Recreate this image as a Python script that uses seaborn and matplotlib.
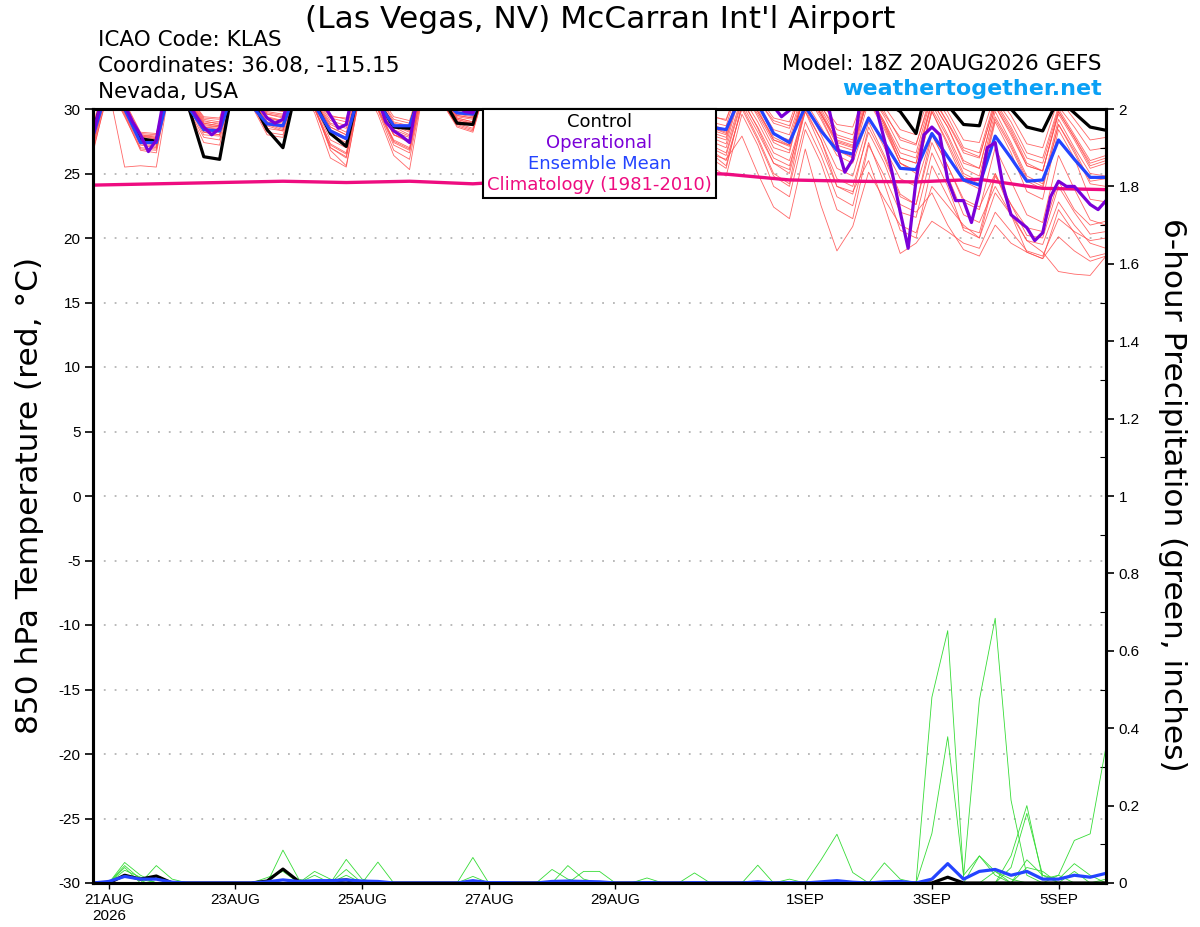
import numpy as np
import pandas as pd
import matplotlib
matplotlib.use("Agg")
import matplotlib.pyplot as plt
import seaborn as sns
from matplotlib.offsetbox import TextArea, VPacker, AnchoredOffsetbox

sns.set_style("white")
plt.rcParams["font.family"] = ["Liberation Sans", "DejaVu Sans"]
plt.rcParams.update({"text.color": "black", "axes.labelcolor": "black",
                     "xtick.color": "black", "ytick.color": "black",
                     "axes.unicode_minus": False})
HEAD = ["DejaVu Sans"]

init = pd.Timestamp("2026-08-20 18:00")
times = pd.date_range(init, periods=65, freq="6h")        # ensemble, 6-hourly
times_op = pd.date_range(init, periods=129, freq="3h")    # operational, 3-hourly
times_clim = pd.date_range(init, periods=17, freq="1D")   # climatology, daily

tick_times = pd.to_datetime(["2026-08-21", "2026-08-23", "2026-08-25", "2026-08-27",
                             "2026-08-29", "2026-09-01", "2026-09-03", "2026-09-05"])
tick_labels = ["21AUG\n2026", "23AUG", "25AUG", "27AUG", "29AUG", "1SEP", "3SEP", "5SEP"]

# 850 hPa temperature (C)
control_t = [28.2,
    32.5, 30.1, 27.7, 27.5,  33.0, 30.3, 26.3, 26.1,  32.8, 30.8, 28.4, 27.0,  32.5, 30.5, 28.1, 27.1,
    32.6, 30.6, 28.6, 28.5,  32.8, 31.0, 28.9, 28.8,  33.0, 31.0, 29.0, 28.8,  33.2, 31.2, 29.3, 29.0,
    33.5, 31.5, 29.5, 29.2,  33.5, 32.0, 31.0, 30.8,  33.8, 32.0, 31.0, 30.8,  34.0, 32.0, 31.0, 30.8,
    33.0, 30.6, 29.8, 28.1,  33.5, 30.3, 28.8, 28.7,  33.0, 30.0, 28.6, 28.3,  30.8, 29.7, 28.6, 28.35]

mean_t = [27.9,
    32.0, 30.0, 27.4, 27.4,  32.3, 30.2, 28.4, 28.3,  32.0, 30.3, 28.85, 28.7,  32.0, 30.3, 28.3, 27.7,
    32.0, 30.5, 28.7, 28.7,  32.2, 30.8, 29.7, 29.6,  32.3, 31.0, 29.6, 29.4,  32.3, 31.0, 29.8, 29.5,
    32.0, 30.8, 29.5, 29.3,  31.8, 30.5, 28.6, 28.4,  31.2, 30.4, 28.1, 27.4,  30.2, 28.3, 26.8, 26.5,
    29.3, 27.4, 25.4, 25.3,  28.1, 26.3, 24.5, 24.1,  27.9, 26.2, 24.4, 24.5,  27.6, 26.1, 24.7, 24.7]

oper_t = [28.0,
    30.5, 32.5, 32.0, 30.3, 29.0, 28.0, 26.7, 27.6,
    31.0, 33.0, 32.5, 30.5, 29.5, 28.6, 28.0, 28.5,
    31.5, 33.0, 32.5, 31.0, 30.2, 29.3, 28.9, 29.2,
    31.5, 33.0, 32.4, 31.2, 30.5, 29.5, 28.5, 28.8,
    31.8, 33.0, 32.5, 30.8, 29.0, 28.3, 27.9, 27.4,
    31.0, 32.8, 32.6, 31.4, 30.6, 30.2, 29.8, 29.7,
    32.0, 33.2, 33.0, 31.8, 30.8, 30.1, 29.6, 29.5,
    32.0, 33.3, 33.0, 31.7, 30.6, 29.9, 29.3, 29.2,
    31.8, 33.0, 32.8, 31.4, 30.4, 29.8, 29.2, 29.0,
    31.6, 32.8, 32.6, 31.8, 31.4, 31.2, 31.0, 31.2,
    33.0, 33.5, 33.0, 32.0, 31.0, 30.2, 29.4, 29.9,
    31.5, 32.5, 33.0, 32.0, 30.0, 27.2, 25.1, 26.1,
    31.0, 31.5, 30.0, 27.6, 25.0, 22.0, 19.2, 24.5,
    28.0, 28.6, 28.0, 24.5, 22.9, 22.9, 21.2, 23.6,
    27.0, 27.4, 24.0, 21.8, 21.3, 20.8, 19.8, 20.4,
    23.2, 24.4, 24.0, 24.0, 23.3, 22.6, 22.2, 22.9]

clim_t = [24.1, 24.2, 24.3, 24.4, 24.3, 24.4, 24.2, 24.5, 24.9,
          25.15, 24.95, 24.5, 24.4, 24.35, 24.55, 23.85, 23.75]

mem01 = [28.5,
    32.8, 30.4, 27.9, 27.8,  33.2, 30.8, 28.6, 28.5,  33.0, 31.0, 29.2, 28.9,  32.6, 30.6, 28.8, 28.2,
    32.4, 30.8, 28.9, 28.6,  32.9, 31.2, 29.4, 29.2,  33.2, 31.4, 29.6, 29.3,  33.0, 31.3, 29.8, 29.5,
    33.4, 31.6, 30.0, 29.4,  33.0, 31.2, 29.5, 29.1,  32.6, 31.0, 29.3, 29.0,  32.4, 30.5, 28.8, 28.6,
    32.0, 30.2, 28.4, 28.0,  31.6, 29.8, 27.6, 27.4,  31.2, 29.5, 27.3, 27.0,  30.8, 29.2, 27.6, 27.8]
mem02 = [27.2,
    32.0, 29.6, 27.0, 26.9,  32.6, 30.2, 28.0, 27.9,  32.4, 30.5, 28.5, 28.3,  32.0, 30.1, 27.2, 26.5,
    32.1, 30.3, 28.0, 27.6,  32.5, 30.7, 29.0, 28.9,  32.6, 30.9, 29.0, 28.6,  32.4, 30.6, 28.7, 28.2,
    32.0, 30.2, 28.0, 27.5,  31.0, 29.0, 26.5, 26.1,  27.9, 25.0, 22.4, 21.5,  26.9, 22.5, 19.0, 20.9,
    25.1, 23.0, 21.0, 20.4,  24.0, 22.5, 21.0, 20.0,  23.5, 21.8, 19.8, 19.5,  22.8, 21.0, 19.6, 19.2]
mem03 = [26.8,
    31.5, 25.5, 25.6, 25.5,  32.8, 30.4, 28.2, 28.0,  32.6, 30.9, 28.8, 28.4,  32.2, 30.2, 26.8, 25.6,
    32.0, 30.0, 27.4, 26.8,  32.6, 30.8, 28.9, 28.5,  32.8, 31.0, 29.3, 29.0,  32.6, 30.8, 29.0, 28.6,
    32.4, 30.6, 28.5, 28.2,  32.0, 30.2, 27.8, 27.3,  31.6, 29.4, 27.0, 26.6,  31.5, 29.4, 26.8, 26.2,
    30.6, 28.4, 25.8, 25.2,  29.8, 27.4, 24.8, 24.2,  29.2, 27.0, 24.4, 23.8,  28.8, 26.6, 24.2, 24.0]
mem04 = [27.8,
    32.2, 29.9, 27.3, 27.1,  32.9, 30.5, 28.6, 28.4,  32.7, 30.7, 29.0, 28.6,  32.1, 30.0, 27.0, 26.2,
    31.8, 29.6, 26.4, 25.3,  32.4, 30.6, 28.8, 28.4,  32.6, 30.8, 29.1, 28.8,  32.6, 30.9, 29.1, 28.8,
    32.3, 30.4, 28.4, 27.9,  31.8, 29.8, 27.2, 26.6,  30.8, 28.5, 25.8, 25.0,  29.8, 27.0, 24.0, 23.6,
    26.0, 22.5, 18.8, 19.6,  21.3, 20.5, 19.6, 19.2,  22.0, 20.5, 19.0, 18.6,  21.5, 20.5, 19.8, 20.0]
mem05 = [28.0,
    32.4, 30.0, 27.5, 27.3,  32.8, 30.6, 28.9, 28.7,  32.9, 31.0, 29.4, 29.1,  32.4, 30.4, 28.0, 27.4,
    32.2, 30.4, 28.2, 27.8,  32.8, 31.0, 29.5, 29.3,  32.9, 31.1, 29.3, 29.0,  32.7, 30.9, 29.0, 28.7,
    32.2, 30.4, 28.6, 28.2,  31.6, 29.6, 27.5, 27.0,  31.0, 29.0, 26.6, 26.0,  30.0, 27.6, 24.6, 24.0,
    28.2, 25.8, 22.6, 22.0,  23.5, 21.0, 19.1, 18.6,  21.0, 19.6, 18.9, 18.4,  20.1, 19.0, 18.2, 18.6]
mem06 = [27.6,
    32.3, 29.8, 27.6, 27.5,  33.0, 30.8, 29.0, 28.9,  33.1, 31.2, 29.6, 29.4,  32.8, 30.8, 28.9, 28.5,
    32.5, 30.6, 28.4, 27.9,  32.6, 30.9, 29.0, 28.7,  32.4, 30.6, 28.6, 28.1,  32.0, 30.1, 27.8, 27.2,
    31.6, 29.5, 27.0, 26.6,  31.2, 29.0, 26.2, 25.4,  30.4, 28.2, 25.8, 25.3,  30.6, 28.6, 26.4, 25.8,
    29.4, 27.0, 24.6, 24.0,  28.0, 25.6, 23.0, 22.4,  25.0, 22.0, 19.8, 18.9,  17.4, 17.2, 17.1, 18.6]
mem07 = [28.3,
    32.6, 30.2, 28.0, 27.9,  33.1, 30.9, 29.2, 29.0,  33.0, 31.1, 29.8, 29.6,  32.9, 31.0, 29.3, 29.0,
    32.8, 31.0, 29.2, 28.9,  33.0, 31.3, 29.8, 29.6,  33.1, 31.4, 29.7, 29.3,  32.8, 31.1, 29.3, 29.0,
    32.5, 30.8, 28.8, 28.4,  32.2, 30.4, 28.2, 27.8,  31.6, 29.8, 27.6, 27.1,  31.6, 29.6, 27.4, 27.0,
    31.0, 28.8, 26.2, 25.8,  30.4, 28.0, 25.4, 24.8,  29.8, 27.4, 24.8, 24.2,  29.2, 27.0, 25.0, 24.8]
mem08 = [27.4,
    32.1, 29.7, 27.2, 27.0,  32.7, 30.4, 28.3, 28.2,  32.6, 30.7, 28.7, 28.3,  32.3, 30.3, 27.6, 27.0,
    32.2, 30.1, 27.5, 26.9,  32.7, 30.9, 29.2, 28.8,  32.5, 30.7, 28.6, 28.2,  32.1, 30.3, 28.0, 27.5,
    31.7, 29.8, 27.4, 26.8,  30.8, 28.6, 25.6, 24.8,  29.6, 27.2, 24.0, 23.2,  28.4, 25.8, 22.2, 21.5,
    27.2, 24.8, 22.0, 21.6,  26.6, 24.0, 20.6, 20.0,  24.8, 22.6, 20.2, 20.0,  24.0, 22.0, 20.3, 20.5]
mem09 = [28.8,
    33.0, 30.6, 28.2, 28.1,  33.3, 31.0, 29.3, 29.2,  33.3, 31.5, 30.0, 29.8,  33.0, 31.0, 29.4, 29.3,
    33.0, 31.2, 29.4, 29.1,  33.2, 31.5, 29.9, 29.8,  33.4, 31.7, 30.2, 29.9,  33.4, 31.6, 30.0, 29.7,
    33.2, 31.4, 29.7, 29.3,  32.9, 31.0, 29.0, 28.7,  32.6, 30.8, 28.9, 28.5,  32.3, 30.3, 28.0, 27.6,
    31.8, 29.8, 27.6, 27.2,  31.4, 29.4, 27.0, 26.6,  30.8, 29.0, 26.6, 26.2,  30.2, 28.6, 26.8, 27.0]
mem10 = [27.0,
    32.0, 29.5, 26.8, 26.6,  32.5, 30.0, 27.4, 27.2,  32.3, 30.3, 28.0, 27.8,  31.8, 29.7, 26.2, 25.5,
    32.0, 30.0, 27.2, 26.6,  32.3, 30.6, 28.6, 28.2,  32.5, 30.8, 28.8, 28.4,  32.3, 30.5, 28.6, 28.1,
    32.0, 30.1, 27.9, 27.3,  31.4, 29.2, 26.6, 25.6,  30.2, 27.8, 25.0, 24.2,  30.4, 28.0, 25.4, 24.8,
    29.0, 26.4, 23.4, 22.6,  28.0, 25.6, 22.8, 22.2,  27.0, 24.4, 21.8, 21.2,  26.4, 23.8, 21.4, 21.0]
mem11 = [28.1,
    32.7, 30.3, 27.8, 27.7,  33.0, 30.7, 28.8, 28.6,  33.0, 31.2, 29.6, 29.3,  32.7, 30.7, 28.6, 28.0,
    32.6, 30.8, 28.8, 28.3,  33.0, 31.2, 29.6, 29.4,  33.0, 31.2, 29.5, 29.2,  33.1, 31.4, 29.7, 29.3,
    32.9, 31.1, 29.3, 29.0,  32.5, 30.7, 28.6, 28.1,  32.0, 30.2, 28.0, 27.6,  31.7, 29.8, 27.5, 27.1,
    31.2, 29.0, 26.6, 26.2,  30.6, 28.6, 26.0, 25.4,  30.2, 28.0, 25.6, 25.2,  29.6, 27.6, 25.4, 25.8]
mem12 = [27.9,
    32.5, 30.1, 27.6, 27.4,  32.7, 30.3, 28.2, 28.0,  32.8, 30.9, 29.0, 28.8,  32.5, 30.5, 28.4, 27.8,
    32.3, 30.4, 28.0, 27.5,  32.7, 30.9, 29.3, 29.0,  32.9, 31.1, 29.4, 29.1,  32.8, 31.0, 29.2, 28.9,
    32.6, 30.7, 28.9, 28.6,  32.2, 30.3, 28.4, 28.0,  31.8, 29.8, 27.8, 27.2,  31.3, 29.2, 26.8, 26.3,
    31.2, 28.8, 25.8, 25.0,  29.8, 27.2, 24.4, 23.8,  29.0, 26.6, 23.6, 23.0,  28.4, 26.2, 23.0, 22.8]
mem13 = [27.5,
    32.2, 29.8, 27.4, 27.2,  32.9, 30.5, 28.5, 28.3,  32.8, 30.8, 28.9, 28.5,  32.2, 30.1, 27.3, 26.6,
    32.0, 30.0, 27.6, 27.0,  32.6, 30.8, 29.1, 28.7,  32.7, 30.9, 29.2, 28.9,  32.5, 30.7, 28.9, 28.5,
    32.1, 30.2, 28.2, 27.7,  31.6, 29.5, 27.0, 26.4,  30.6, 28.6, 26.2, 25.6,  29.8, 27.6, 24.0, 23.4,
    28.6, 26.2, 23.2, 22.6,  27.4, 24.8, 21.8, 21.2,  24.0, 21.8, 18.9, 18.4,  22.2, 20.4, 18.5, 18.8]
mem14 = [28.6,
    32.9, 30.5, 28.1, 28.0,  33.2, 31.0, 29.4, 29.3,  33.4, 31.6, 30.1, 29.9,  33.1, 31.2, 29.5, 29.2,
    33.0, 31.1, 29.0, 28.7,  33.1, 31.4, 29.7, 29.5,  33.3, 31.6, 30.0, 29.7,  33.3, 31.5, 29.9, 29.6,
    33.0, 31.2, 29.6, 29.3,  32.7, 30.9, 29.4, 29.2,  32.4, 30.7, 29.1, 28.7,  32.0, 30.2, 28.4, 28.0,
    31.5, 29.6, 27.8, 27.3,  31.0, 29.0, 26.8, 26.3,  30.4, 28.4, 25.8, 25.2,  29.8, 27.8, 25.6, 26.0]
mem15 = [26.6,
    31.8, 29.4, 26.9, 26.8,  32.4, 30.0, 27.8, 27.6,  32.4, 30.4, 28.2, 28.0,  32.0, 30.0, 27.0, 26.3,
    31.9, 29.9, 26.8, 26.1,  32.4, 30.6, 28.7, 28.3,  32.4, 30.6, 28.5, 28.2,  32.2, 30.4, 28.3, 27.9,
    31.9, 30.0, 27.6, 27.0,  31.2, 29.2, 26.8, 26.0,  30.0, 27.6, 24.8, 24.0,  29.0, 26.4, 23.2, 22.5,
    27.4, 24.2, 20.6, 20.0,  25.6, 23.2, 20.8, 20.4,  25.0, 22.6, 20.8, 20.5,  24.4, 22.2, 21.0, 21.3]
mem16 = [28.4,
    32.7, 30.3, 28.0, 27.8,  33.0, 30.8, 29.1, 28.8,  33.1, 31.3, 29.7, 29.5,  32.8, 30.9, 29.1, 28.7,
    32.7, 30.9, 28.6, 28.0,  32.9, 31.1, 29.3, 29.0,  33.1, 31.3, 29.6, 29.4,  33.0, 31.2, 29.5, 29.2,
    32.7, 30.9, 29.0, 28.7,  32.4, 30.6, 28.8, 28.4,  31.4, 29.6, 27.4, 26.8,  31.4, 29.6, 27.6, 27.2,
    30.8, 28.6, 25.8, 25.2,  30.0, 27.8, 25.0, 24.4,  29.4, 27.2, 24.6, 24.0,  28.8, 26.8, 24.4, 24.6]
mem17 = [28.0,
    32.5, 30.2, 27.9, 27.7,  32.9, 30.7, 28.9, 28.7,  32.9, 31.0, 29.3, 29.1,  32.6, 30.6, 28.6, 28.0,
    32.5, 30.7, 28.7, 28.2,  32.8, 31.1, 29.5, 29.3,  33.0, 31.2, 29.6, 29.3,  32.9, 31.1, 29.4, 29.0,
    32.6, 30.8, 29.0, 28.6,  32.4, 30.5, 28.6, 28.2,  32.2, 30.4, 28.4, 28.0,  31.9, 30.0, 27.8, 27.4,
    31.4, 29.4, 27.0, 26.6,  31.0, 28.9, 26.6, 26.2,  30.6, 28.6, 26.2, 25.8,  30.0, 28.0, 26.0, 26.4]
mem18 = [27.7,
    32.3, 30.0, 27.5, 27.3,  32.8, 30.6, 28.7, 28.6,  32.9, 31.0, 29.3, 29.0,  32.4, 30.4, 28.2, 27.6,
    32.2, 30.3, 28.0, 27.4,  32.7, 31.0, 29.2, 28.9,  32.8, 31.1, 29.4, 29.1,  32.7, 30.9, 29.1, 28.8,
    32.4, 30.6, 28.7, 28.3,  32.0, 30.2, 28.0, 27.6,  31.8, 30.0, 27.6, 27.2,  31.5, 29.6, 27.2, 26.8,
    31.0, 29.0, 26.2, 25.8,  30.6, 28.6, 25.8, 25.4,  30.2, 28.2, 25.6, 25.2,  29.8, 27.8, 25.8, 26.2]

# 6-hour precipitation (inches)
control_p = [0, 0, .02, .01, .018, 0, 0, 0, 0, 0, 0, .005, .036,
             .004, 0, .005, .008, 0, 0, 0, 0, 0, 0, 0, 0, 0,
             0, 0, 0, 0, 0, 0, 0, 0, 0, 0, 0, 0, 0,
             0, 0, 0, 0, 0, 0, 0, 0, 0, 0, 0, 0, 0,
             0, 0, .015, 0, 0, 0, 0, 0, 0, 0, 0, 0, 0]
mean_p = [0, .004, .017, .01, .01, .002, 0, 0, 0, 0, 0, .003, .008,
          .004, .006, .006, .008, .005, .004, 0, 0, 0, 0, 0, .006, .001,
          .001, 0, 0, .004, .005, .004, .003, 0, 0, .001, 0, 0, .001,
          0, 0, 0, .003, 0, .001, 0, .003, .006, .002, 0, .003, .004,
          0, .01, .05, .01, .03, .035, .02, .03, .01, .01, .02, .015, .025]
grn01 = [0, 0, .053, .02, 0, 0, 0, 0, 0, 0, 0, 0, .085,
         .01, 0, 0, 0, 0, 0, 0, 0, 0, 0, 0, .066, 0,
         0, 0, 0, 0, 0, 0, 0, 0, 0, 0, 0, 0, 0,
         0, 0, 0, 0, 0, 0, 0, .06, .126, .027, 0, 0, 0,
         0, .48, .652, .016, .473, .684, .214, .02, 0, 0, 0, 0, 0]
grn02 = [0, 0, .045, .01, 0, 0, 0, 0, 0, 0, 0, 0, 0,
         0, 0, 0, .061, .01, 0, 0, 0, 0, 0, 0, 0, 0,
         0, 0, 0, .035, .01, 0, 0, 0, 0, 0, 0, 0, 0,
         0, 0, 0, 0, 0, 0, 0, 0, 0, 0, 0, 0, 0,
         0, .128, .378, .02, .07, .03, .01, 0, 0, 0, 0, 0, 0]
grn03 = [0, 0, 0, 0, .045, .01, 0, 0, 0, 0, 0, 0, 0,
         0, 0, 0, 0, 0, .054, 0, 0, 0, 0, 0, 0, 0,
         0, 0, 0, 0, .045, .01, 0, 0, 0, 0, 0, 0, 0,
         0, 0, 0, 0, 0, 0, 0, 0, 0, 0, 0, 0, 0,
         0, 0, 0, 0, 0, 0, .07, .2, .01, .02, 0, 0, 0]
grn04 = [0, 0, 0, 0, 0, 0, 0, 0, 0, 0, 0, 0, 0,
         0, .03, .01, 0, 0, 0, 0, 0, 0, 0, 0, 0, 0,
         0, 0, 0, 0, 0, .03, .03, 0, 0, 0, 0, 0, 0,
         0, 0, 0, .046, 0, 0, 0, 0, 0, 0, 0, 0, 0,
         0, 0, 0, 0, 0, 0, .04, .18, .02, 0, 0, 0, 0]
grn05 = [0, 0, 0, 0, 0, 0, 0, 0, 0, 0, 0, 0, 0,
         0, 0, 0, .035, 0, 0, 0, 0, 0, 0, 0, 0, 0,
         0, 0, 0, 0, 0, 0, 0, 0, 0, 0, 0, 0, .026,
         0, 0, 0, 0, 0, 0, 0, 0, 0, 0, 0, .052, .01,
         0, 0, 0, 0, 0, 0, 0, 0, 0, .02, .11, .127, .352]
grn06 = [0, 0, .04, 0, 0, 0, 0, 0, 0, 0, 0, .014, .03,
         0, 0, 0, 0, 0, 0, 0, 0, 0, 0, 0, .017, 0,
         0, 0, 0, 0, 0, 0, 0, 0, 0, .013, 0, 0, 0,
         0, 0, 0, 0, 0, 0, 0, 0, 0, 0, 0, 0, 0,
         0, 0, 0, 0, .07, .02, 0, 0, 0, 0, 0, 0, 0]
grn07 = [0, 0, .033, .015, 0, 0, 0, 0, 0, 0, 0, 0, 0,
         0, 0, 0, .02, 0, 0, 0, 0, 0, 0, 0, 0, 0,
         0, 0, 0, 0, 0, 0, 0, 0, 0, 0, 0, 0, 0,
         0, 0, 0, 0, 0, .01, 0, 0, 0, 0, 0, 0, 0,
         0, 0, 0, 0, 0, 0, 0, .06, .02, .01, .05, .02, 0]
grn08 = [0, 0, 0, 0, .02, 0, 0, 0, 0, 0, 0, 0, 0,
         0, .02, 0, 0, 0, 0, 0, 0, 0, 0, 0, 0, 0,
         0, 0, 0, 0, 0, 0, 0, 0, 0, 0, 0, 0, 0,
         0, 0, 0, 0, 0, 0, 0, 0, 0, 0, 0, 0, 0,
         0, 0, 0, 0, 0, .03, 0, .04, .03, 0, .03, 0, .01]

members_t = [mem01, mem02, mem03, mem04, mem05, mem06, mem07, mem08, mem09,
             mem10, mem11, mem12, mem13, mem14, mem15, mem16, mem17, mem18]
members_p = [grn01, grn02, grn03, grn04, grn05, grn06, grn07, grn08]
for s in members_t + members_p + [control_t, mean_t, control_p, mean_p]:
    assert len(s) == len(times)
assert len(oper_t) == len(times_op) and len(clim_t) == len(times_clim)

# long-form tables for seaborn
temp_df = pd.DataFrame({
    "time": np.tile(times, len(members_t)),
    "member": np.repeat(np.arange(len(members_t)), len(times)),
    "value": np.concatenate(members_t),
})
prcp_df = pd.DataFrame({
    "time": np.tile(times, len(members_p)),
    "member": np.repeat(np.arange(len(members_p)), len(times)),
    "value": np.concatenate(members_p),
})

RED = "#ff4c4c"
GREEN = "#36dc36"
PURPLE = "#7a00d8"
BLUE = "#2444ff"
PINK = "#ee0c80"

# ---------------- figure ----------------
fig = plt.figure(figsize=(12, 9.27), dpi=100)
ax = fig.add_axes([93 / 1200, 44 / 927, 1013 / 1200, 774 / 927])
ax2 = ax.twinx()

sns.lineplot(data=temp_df, x="time", y="value", units="member", estimator=None,
             color=RED, lw=0.6, alpha=0.85, ax=ax, legend=False)
sns.lineplot(x=times_clim, y=clim_t, color=PINK, lw=2.4, ax=ax)
sns.lineplot(x=times, y=control_t, color="black", lw=2.3, ax=ax)
sns.lineplot(x=times, y=mean_t, color=BLUE, lw=2.3, ax=ax)
sns.lineplot(x=times_op, y=oper_t, color=PURPLE, lw=2.3, ax=ax)

sns.lineplot(data=prcp_df, x="time", y="value", units="member", estimator=None,
             color=GREEN, lw=0.6, ax=ax2, legend=False)
sns.lineplot(x=times, y=control_p, color="black", lw=2.3, ax=ax2)
sns.lineplot(x=times, y=mean_p, color=BLUE, lw=2.3, ax=ax2)

ax.set_xlim(times[0], times[-1])
ax.set_ylim(-30, 30)
ax2.set_ylim(0, 2)

ax.set_yticks(np.arange(-30, 31, 5))
ax2.set_yticks(np.arange(0, 2.01, 0.2))
ax2.set_yticklabels([f"{v:g}" for v in np.arange(0, 2.01, 0.2)])
ax2.set_yticks(np.arange(0.1, 2.0, 0.2), minor=True)
ax.set_xticks(tick_times)
ax.set_xticklabels(tick_labels)
ax.set_xlabel("")
ax.set_ylabel("")
ax2.set_ylabel("")

ax.tick_params(axis="y", left=True, direction="out", length=6, width=1.2, labelsize=11, pad=3)
ax.tick_params(axis="x", bottom=True, direction="out", length=4, width=1.0, labelsize=11, pad=3)
ax2.tick_params(axis="y", which="major", right=True, direction="out", length=6, width=1.2,
                labelsize=11, pad=3)
ax2.tick_params(axis="y", which="minor", right=True, direction="in", length=4, width=0.8)

ax.yaxis.grid(True, color="#b4b4b4", linestyle=(0, (1, 5)), lw=1.3)
ax.xaxis.grid(False)
for a in (ax, ax2):
    for sp in a.spines.values():
        sp.set_linewidth(2.2)
        sp.set_color("black")

# legend box with centred, coloured labels
entries = [("Control", "black"), ("Operational", PURPLE),
           ("Ensemble Mean", BLUE), ("Climatology (1981-2010)", PINK)]
boxes = [TextArea(t, textprops=dict(color=c, fontsize=13, family=HEAD)) for t, c in entries]
vp = VPacker(children=boxes, align="center", pad=0, sep=2)
leg = AnchoredOffsetbox(loc="upper center", child=vp, pad=0.3, borderpad=0, frameon=True,
                        bbox_to_anchor=(0.5, 1.0), bbox_transform=ax.transAxes)
leg.patch.set_edgecolor("black")
leg.patch.set_linewidth(1.5)
leg.set_zorder(10)
ax2.add_artist(leg)

# header texts
fig.text(0.5, 1 - 19 / 927, "(Las Vegas, NV) McCarran Int'l Airport",
         ha="center", va="center", fontsize=22.5, family=HEAD)
fig.text(98 / 1200, 1 - 40 / 927, "ICAO Code: KLAS", ha="left", va="center",
         fontsize=15.5, family=HEAD)
fig.text(98 / 1200, 1 - 66 / 927, "Coordinates: 36.08, -115.15", ha="left", va="center",
         fontsize=15.5, family=HEAD)
fig.text(98 / 1200, 1 - 92 / 927, "Nevada, USA", ha="left", va="center",
         fontsize=15.5, family=HEAD)
fig.text(1102 / 1200, 1 - 64 / 927, "Model: 18Z 20AUG2026 GEFS", ha="right", va="center",
         fontsize=15.5, family=HEAD)
fig.text(1102 / 1200, 1 - 89 / 927, "weathertogether.net", ha="right", va="center",
         fontsize=16, fontweight="bold", color="#0aa0f5", family=HEAD)

fig.text(30 / 1200, 1 - 495 / 927, "850 hPa Temperature (red, °C)", rotation=90,
         ha="center", va="center", fontsize=22.5, family=HEAD)
fig.text(1172 / 1200, 1 - 495 / 927, "6-hour Precipitation (green, inches)", rotation=270,
         ha="center", va="center", fontsize=22.5, family=HEAD)

fig.savefig("out.png", dpi=100)
